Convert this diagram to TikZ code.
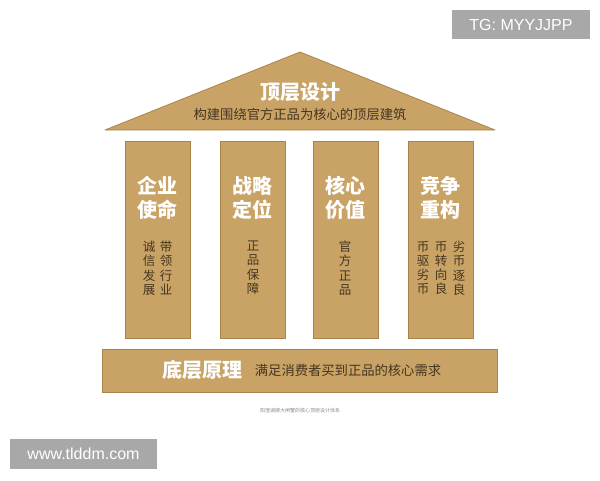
\documentclass[tikz,border=0pt]{standalone}
\usepackage{fontspec}
\setmainfont{Liberation Sans}
\newfontfamily\cjk{Noto Sans CJK SC}
\usetikzlibrary{calc}
\definecolor{tan}{HTML}{C9A366}
\definecolor{tanedge}{HTML}{A8844A}
\definecolor{subtxt}{HTML}{45351E}
\definecolor{wmgray}{HTML}{A8A8A8}
\tikzset{
  block/.style={fill=tan, draw=tanedge, line width=0.8pt},
  bigtitle/.style={font=\cjk\bfseries\fontsize{20}{24}\selectfont, text=white, inner sep=0pt, align=center},
  subline/.style={font=\cjk\fontsize{13.3}{16}\selectfont, text=subtxt, inner sep=0pt},
  vcol/.style={font=\cjk\fontsize{12.5}{14.2}\selectfont, text=subtxt, inner sep=0pt, align=center, anchor=north},
  wmbox/.style={fill=wmgray, inner sep=0pt},
  wmtext/.style={font=\fontsize{16}{18}\selectfont, text=white, inner sep=0pt},
}
\begin{document}
\begin{tikzpicture}[x=1pt,y=-1pt]
\useasboundingbox (0,0) rectangle (600,480);
\fill[white] (0,0) rectangle (600,480);
% roof
\draw[block, line join=round] (105,130) -- (300,52) -- (495,130) -- cycle;
\node[bigtitle] (roofTitle) at (300,92) {顶层设计};
\node[subline] (roofSub) at (300,114) {构建围绕官方正品为核心的顶层建筑};
% pillars
\draw[block] (125,141) rectangle (190,338);
\draw[block] (220,141) rectangle (285,338);
\draw[block] (313,141) rectangle (378,338);
\draw[block] (408,141) rectangle (473,338);
\node[bigtitle] (p1t) at (157.5,197.5) {企业\\使命};
\node[bigtitle] (p2t) at (252.5,197.5) {战略\\定位};
\node[bigtitle] (p3t) at (345.5,197.5) {核心\\价值};
\node[bigtitle] (p4t) at (440.5,197.5) {竞争\\重构};
\node[vcol] (p1a) at (149,241) {诚\\信\\发\\展};
\node[vcol] (p1b) at (166,241) {带\\领\\行\\业};
\node[vcol] (p2a) at (253,241) {正\\品\\保\\障};
\node[vcol] (p3a) at (345,241) {官\\方\\正\\品};
\node[vcol] (p4a) at (423,241) {币\\驱\\劣\\币};
\node[vcol] (p4b) at (441,241) {币\\转\\向\\良};
\node[vcol] (p4c) at (459,241) {劣\\币\\逐\\良};
% base
\draw[block] (102,349) rectangle (497,392);
\node[bigtitle] (baseTitle) at (202,370) {底层原理};
\node[subline] (baseSub) at (348,370) {满足消费者买到正品的核心需求};
% caption
\node[font=\cjk\fontsize{5}{6}\selectfont, text=black!45, inner sep=0pt] (cap) at (300,411) {阳澄湖牌大闸蟹的核心顶层设计体系};
% watermarks
\fill[wmgray] (452,10) rectangle (590,39);
\node[wmtext] (tg) at (521,24.5) {TG: MYYJJPP};
\fill[wmgray] (10,439) rectangle (157,469);
\node[wmtext] (www) at (83.5,454) {www.tlddm.com};
\end{tikzpicture}
\end{document}
